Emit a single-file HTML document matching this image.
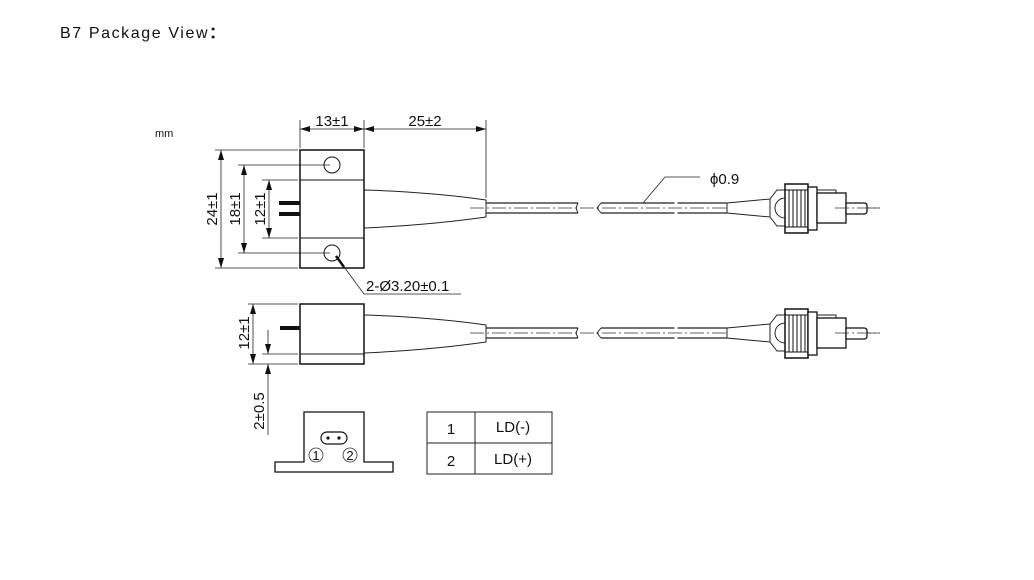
<!DOCTYPE html>
<html><head><meta charset="utf-8"><style>
html,body{margin:0;padding:0;background:#fff;width:1034px;height:580px;overflow:hidden}
svg{display:block}
text{font-family:"Liberation Sans",sans-serif;fill:#111}
</style></head><body>
<svg width="1034" height="580" viewBox="0 0 1034 580" xmlns="http://www.w3.org/2000/svg">
<defs>
<marker id="a" viewBox="0 0 10 6" refX="10" refY="3" markerWidth="10" markerHeight="6" markerUnits="userSpaceOnUse" orient="auto-start-reverse"><path d="M0,0 L10,3 L0,6z" fill="#111"/></marker>
<g id="cable">
  <path d="M364,190 Q430,192 486,200 L486,217 Q430,225 364,228" fill="none" stroke="#222" stroke-width="1"/>
  <line x1="486" y1="203" x2="578" y2="203" stroke="#222" stroke-width="1.3"/>
  <line x1="486" y1="213" x2="578" y2="213" stroke="#222" stroke-width="1.3"/>
  <path d="M578,203 L576,208 L578,213" fill="none" stroke="#222"/>
  <path d="M601,203 L597,208 L601,213" fill="none" stroke="#222"/>
  <line x1="601" y1="203" x2="727" y2="203" stroke="#222" stroke-width="1.3"/>
  <line x1="601" y1="213" x2="727" y2="213" stroke="#222" stroke-width="1.3"/>
  <line x1="676" y1="201" x2="676" y2="215" stroke="#fff" stroke-width="3"/>
  <line x1="470" y1="208" x2="880" y2="208" stroke="#333" stroke-width="0.7" stroke-dasharray="14,3,2,3"/>
  <path d="M727,203 L770,199 L770,217 L727,213z" fill="#fff" stroke="#222"/>
  <path d="M770,199 L777,190 L785,190 L785,226 L777,226 L770,217z" fill="#fff" stroke="#222"/>
  <path d="M785,198 A10,10 0 0 0 785,218" fill="none" stroke="#222"/>
  <rect x="785" y="184" width="23" height="49" fill="#fff" stroke="#111" stroke-width="1.5"/>
  <g stroke="#111" stroke-width="1">
   <line x1="785" y1="190" x2="808" y2="190"/><line x1="785" y1="227" x2="808" y2="227"/>
   <line x1="789" y1="190" x2="789" y2="227"/><line x1="793" y1="190" x2="793" y2="227"/><line x1="797" y1="190" x2="797" y2="227"/><line x1="801" y1="190" x2="801" y2="227"/><line x1="805" y1="190" x2="805" y2="227"/>
  </g>
  <rect x="808" y="187" width="9" height="43" fill="#fff" stroke="#111" stroke-width="1.3"/>
  <path d="M817,190 L836,190 L836,193" fill="none" stroke="#222"/>
  <rect x="817" y="193" width="29" height="30" fill="#fff" stroke="#111" stroke-width="1.3"/>
  <path d="M846,203 L864,203 Q867,203 867,206 L867,211 Q867,214 864,214 L846,214z" fill="#fff" stroke="#111" stroke-width="1.3"/>
  <line x1="835" y1="208" x2="880" y2="208" stroke="#333" stroke-width="0.7" stroke-dasharray="14,3,2,3"/>
</g>
</defs>
<text x="60" y="38" font-size="16" letter-spacing="1.6">B7 Package View<tspan font-family="Noto Sans CJK SC, sans-serif" font-weight="bold">：</tspan></text>
<text x="155" y="137" font-size="11">mm</text>

<!-- top view -->
<use href="#cable"/>
<rect x="300" y="150" width="64" height="118" fill="#fff" stroke="#111" stroke-width="1.5"/>
<line x1="300" y1="180" x2="364" y2="180" stroke="#111"/>
<line x1="300" y1="238" x2="364" y2="238" stroke="#111"/>
<circle cx="332" cy="165" r="8" fill="none" stroke="#111"/>
<circle cx="332" cy="253" r="8" fill="none" stroke="#111"/>
<rect x="279" y="201" width="21" height="4" fill="#111"/>
<rect x="279" y="212" width="21" height="4" fill="#111"/>
<g stroke="#222" stroke-width="0.8" fill="none">
 <line x1="300" y1="120" x2="300" y2="148"/><line x1="364" y1="120" x2="364" y2="148"/><line x1="486" y1="120" x2="486" y2="198"/>
 <line x1="300" y1="129" x2="364" y2="129" marker-start="url(#a)" marker-end="url(#a)"/>
 <line x1="364" y1="129" x2="486" y2="129" marker-start="url(#a)" marker-end="url(#a)"/>
 <line x1="215" y1="150" x2="298" y2="150"/><line x1="215" y1="268" x2="298" y2="268"/>
 <line x1="221" y1="150" x2="221" y2="268" marker-start="url(#a)" marker-end="url(#a)"/>
 <line x1="238" y1="165" x2="330" y2="165"/><line x1="238" y1="253" x2="330" y2="253"/>
 <line x1="244" y1="165" x2="244" y2="253" marker-start="url(#a)" marker-end="url(#a)"/>
 <line x1="262" y1="180" x2="298" y2="180"/><line x1="262" y1="238" x2="298" y2="238"/>
 <line x1="269" y1="180" x2="269" y2="238" marker-start="url(#a)" marker-end="url(#a)"/>
 <polyline points="336,256 364,294 461,294"/>
 <polyline points="643,203 665,177 700,177"/>
</g>
<line x1="336" y1="256" x2="344" y2="267" stroke="#111" stroke-width="2.5"/>
<text x="332" y="126" font-size="15" text-anchor="middle">13±1</text>
<text x="425" y="126" font-size="15" text-anchor="middle">25±2</text>
<text transform="translate(217,209) rotate(-90)" font-size="15" text-anchor="middle">24±1</text>
<text transform="translate(240,209) rotate(-90)" font-size="15" text-anchor="middle">18±1</text>
<text transform="translate(265,209) rotate(-90)" font-size="15" text-anchor="middle">12±1</text>
<text x="366" y="291" font-size="15">2-Ø3.20±0.1</text>
<text x="710" y="184" font-size="15">ϕ0.9</text>

<!-- side view -->
<use href="#cable" transform="translate(0,125)"/>
<rect x="300" y="304" width="64" height="60" fill="#fff" stroke="#111" stroke-width="1.5"/>
<line x1="300" y1="354" x2="364" y2="354" stroke="#111"/>
<rect x="280" y="326" width="20" height="4" fill="#111"/>
<g stroke="#222" stroke-width="0.8" fill="none">
 <line x1="248" y1="304" x2="298" y2="304"/><line x1="248" y1="364" x2="298" y2="364"/>
 <line x1="262" y1="354" x2="298" y2="354"/>
 <line x1="253" y1="304" x2="253" y2="364" marker-start="url(#a)" marker-end="url(#a)"/>
 <line x1="268" y1="330" x2="268" y2="354" marker-end="url(#a)"/>
 <line x1="268" y1="435" x2="268" y2="364" marker-end="url(#a)"/>
</g>
<text transform="translate(249,333) rotate(-90)" font-size="15" text-anchor="middle">12±1</text>
<text transform="translate(264,411) rotate(-90)" font-size="15" text-anchor="middle">2±0.5</text>

<!-- front view -->
<path d="M304,462 L304,412 L364,412 L364,462 L393,462 L393,472 L275,472 L275,462z" fill="#fff" stroke="#111" stroke-width="1.3"/>
<rect x="321" y="432" width="26" height="12" rx="6" fill="none" stroke="#111" stroke-width="1.2"/>
<circle cx="328" cy="438" r="1.6" fill="#111"/><circle cx="339" cy="438" r="1.6" fill="#111"/>
<circle cx="316" cy="455" r="7" fill="none" stroke="#333" stroke-width="0.8"/>
<text x="316" y="460" font-size="13" text-anchor="middle">1</text>
<circle cx="350" cy="455" r="7" fill="none" stroke="#333" stroke-width="0.8"/>
<text x="350" y="460" font-size="13" text-anchor="middle">2</text>

<!-- table -->
<rect x="427" y="412" width="125" height="62" fill="none" stroke="#222"/>
<line x1="427" y1="443" x2="552" y2="443" stroke="#222"/>
<line x1="475" y1="412" x2="475" y2="474" stroke="#222"/>
<text x="451" y="434" font-size="15" text-anchor="middle">1</text>
<text x="513" y="432" font-size="15" text-anchor="middle">LD(-)</text>
<text x="451" y="466" font-size="15" text-anchor="middle">2</text>
<text x="513" y="464" font-size="15" text-anchor="middle">LD(+)</text>
</svg>
</body></html>
